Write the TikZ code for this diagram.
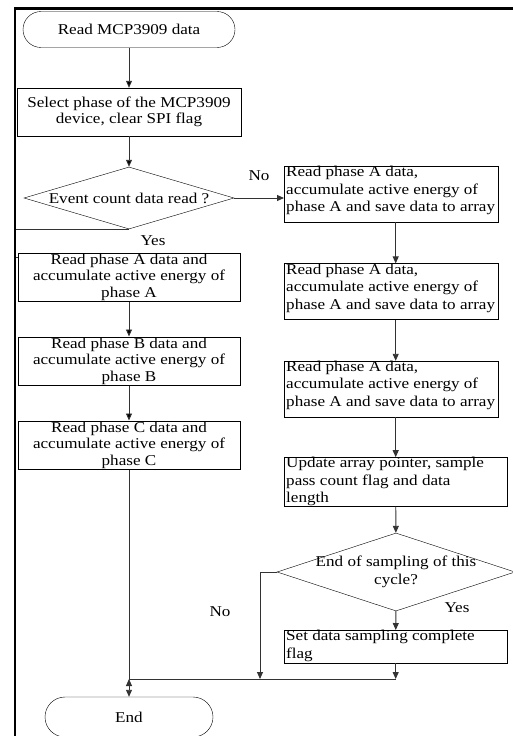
\documentclass[tikz,border=0pt]{standalone}
\usepackage{fontspec}
\setmainfont{Liberation Serif}[FakeStretch=1.14]
\usetikzlibrary{positioning, shapes.geometric, arrows.meta}
\tikzset{term/.style = {draw, rounded corners=18pt, minimum width=212pt, minimum height=36pt, inner sep=0pt}}
\tikzset{proc/.style = {draw, align=center, inner sep=1pt, minimum width=222pt, minimum height=48pt, font=\fontsize{15}{16.5}\selectfont}}
\tikzset{data/.style = {draw, anchor=north west, inner xsep=2pt, inner ysep=0pt}}
\tikzset{decision/.style = {draw, diamond, inner sep=0pt, align=center}}
\tikzset{link/.style = {draw=black!80, line width=0.9pt}}
\newcommand{\toptext}[3]{\parbox[c][#1][t]{#2}{\raggedright #3}}

\begin{document}
\begin{tikzpicture}[x=1pt, y=1pt, >={Triangle[width=6pt,length=7pt]}, node distance=35pt, font=\fontsize{15}{17.5}\selectfont]
  \useasboundingbox (0,0) rectangle (512,-736);

  % left column
  \node [term] (start) at (129,-29.5) {Read MCP3909 data};
  \node [proc, minimum width=224pt] (sel) at (129,-112) {Select phase of the MCP3909\\device, clear SPI flag};
  \node [decision, minimum width=210pt, minimum height=62pt, shape aspect=3.39] (evt) at (129,-198) {Event count data read ?};
  \node [proc] (pa) at (129,-277) {Read phase A data and\\accumulate active energy of\\phase A};
  \node [proc, below=of pa] (pb) {Read phase B data and\\accumulate active energy of\\phase B};
  \node [proc, below=of pb] (pc) {Read phase C data and\\accumulate active energy of\\phase C};
  \node [term, rounded corners=20pt, minimum width=168pt, minimum height=40pt] (stop) at (129,-717) {End};

  % right column
  \node [data] (r1) at (284,-166) {\toptext{56pt}{210pt}{Read phase A data,\\accumulate active energy of\\\mbox{phase A and save data to array}}};
  \node [data, below=41pt of r1.south west, anchor=north west] (r2) {\toptext{56pt}{210pt}{Read phase A data,\\accumulate active energy of\\\mbox{phase A and save data to array}}};
  \node [data, below=41pt of r2.south west, anchor=north west] (r3) {\toptext{56pt}{210pt}{Read phase A data,\\accumulate active energy of\\\mbox{phase A and save data to array}}};
  \node [data, below=40pt of r3.south west, anchor=north west] (r4) {\toptext{49pt}{219pt}{Update array pointer, sample\\pass count flag and data\\length}};
  \node [decision, minimum width=238pt, minimum height=78pt, shape aspect=3.05, inner xsep=-10pt] (eos) at (396,-572) {End of sampling of this\\cycle?};
  \node [data] (r5) at (284,-630) {\toptext{33pt}{219pt}{Set data sampling complete\\flag}};

  % labels
  \node (no1) at (259,-176) {No};
  \node (yes1) at (153,-241) {Yes};
  \node (no2) at (220,-612) {No};
  \node (yes2) at (457,-608) {Yes};

  \coordinate (mrg) at (129,-679);
  \coordinate (nojoin) at (260,-679);

  \path[link, ->] (start) edge (sel);
  \path[link, ->] (sel) edge (evt);
  \draw[link, ->] (evt.east) -- (evt.east -| r1.west);
  \draw[link] (evt.south) -| ([xshift=-3pt, yshift=-5pt]pa.north west) -- ([yshift=-5pt]pa.north west);
  \path[link, ->] (pa) edge (pb);
  \path[link, ->] (pb) edge (pc);
  \draw[link] (pc) -- (mrg);
  \draw[link, <->] (mrg) -- (stop);

  \draw[link, ->] (r1.south -| r4.north) -- (r2.north -| r4.north);
  \draw[link, ->] (r2.south -| r4.north) -- (r3.north -| r4.north);
  \draw[link, ->] (r3.south -| r4.north) -- (r4.north);
  \draw[link, ->] (r4) -- (eos);
  \draw[link, ->] (eos) -- (r5);
  \draw[link, ->] (eos.west) -| (nojoin);
  \draw[link, ->] (r5) -- (r5.south |- mrg);
  \draw[link] (mrg) -- (mrg -| r5.south);

  % frame
  \draw [line width=2.7pt] (15,-737) -- (15,-8.5) -- (513,-8.5);
\end{tikzpicture}
\end{document}
